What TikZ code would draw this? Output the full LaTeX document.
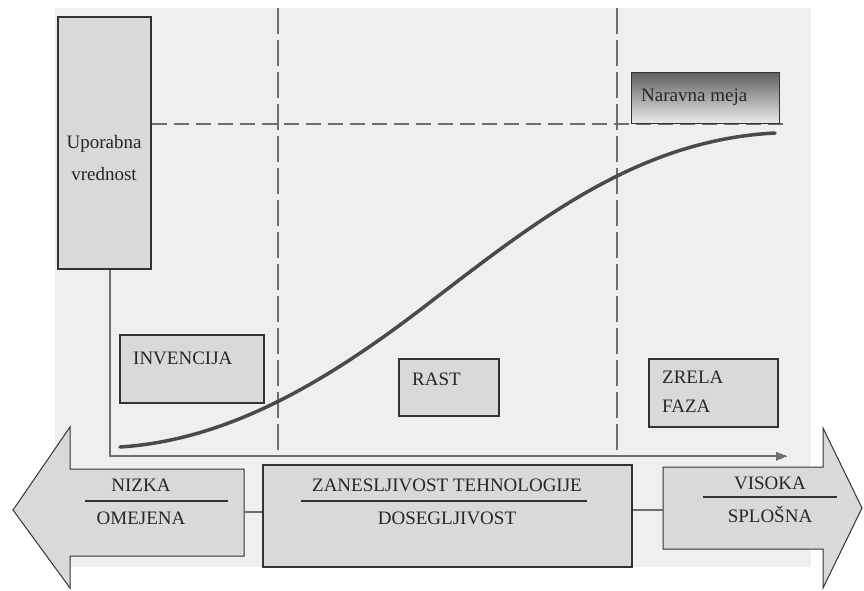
\documentclass[tikz,border=0pt]{standalone}
\usepackage{fontspec}
\setmainfont{Liberation Serif}
\usetikzlibrary{arrows.meta}
\definecolor{bgc}{HTML}{EFEFEF}
\definecolor{boxc}{HTML}{D9D9D9}
\definecolor{edgec}{HTML}{333333}
\definecolor{linec}{HTML}{6E6E6E}
\definecolor{curvec}{HTML}{4A4A4A}
\tikzset{
  box/.style={draw=edgec, fill=boxc, line width=1.2pt, rectangle, inner sep=0pt},
  txt/.style={font=\fontsize{19}{23}\selectfont, inner sep=0pt, text=black!85},
  vdash/.style={draw=linec, line width=1.5pt, dash pattern=on 26pt off 6pt},
  hdash/.style={draw=linec, line width=1.8pt, dash pattern=on 15pt off 7pt},
  axis/.style={draw=linec, line width=1.5pt},
  bigarrow/.style={draw=edgec, fill=boxc, line width=1pt, line join=miter},
  rule/.style={draw=black!80, line width=1.1pt},
}
\begin{document}
\begin{tikzpicture}[x=1pt,y=-1pt]
\useasboundingbox (0,0) rectangle (864,591);
\fill[white] (0,0) rectangle (864,591);
\fill[bgc] (55,8) rectangle (811,567);

% dashed phase lines
\coordinate (d1t) at (278,8);
\coordinate (d1b) at (278,456);
\coordinate (d2t) at (617,8);
\coordinate (d2b) at (617,456);
\draw[vdash] (d1t) -- (d1b);
\draw[vdash] (d2t) -- (d2b);

% value box
\node[box, minimum width=93pt, minimum height=252pt] (uv) at (104.5,143) {};
\node[txt, align=center] (uvt) at (104,158) {Uporabna\\[9pt]vrednost};

% limit dashed line
\coordinate (lim) at (783,124);
\draw[hdash] (uv.east |- 0,124) -- (lim);

% natural limit box
\node[rectangle, minimum width=147pt, minimum height=50pt, inner sep=0pt] (nm) at (705.5,98) {};
\shade[top color=black!62, bottom color=black!8] (nm.south west) rectangle (nm.north east);
\draw[edgec, line width=1.2pt] (nm.south west) rectangle (nm.north east);
\node[txt, anchor=west] (nmt) at (641,97) {Naravna meja};

% axes
\coordinate (corner) at (110,456);
\coordinate (xend) at (786,456);
\draw[axis] (uv.south -| corner) -- (corner) -- (xend);
\draw[linec, line width=0pt, fill=linec] (xend) ++(-10,-4) -- (xend) -- ++(-10,4) -- cycle;

% phase boxes
\node[box, minimum width=144pt, minimum height=68pt] (inv) at (192,369) {};
\node[txt, anchor=west] (invt) at (133,358) {INVENCIJA};
\node[box, minimum width=100pt, minimum height=57pt] (rast) at (449,387.5) {};
\node[txt, anchor=west] (rastt) at (412,379) {RAST};
\node[box, minimum width=129pt, minimum height=68pt] (zr) at (713.5,393) {};
\node[txt, anchor=west, align=left] (zrt) at (662,392) {ZRELA\\[6pt]FAZA};

% S-curve
\coordinate (c0) at (120,447);
\coordinate (c1) at (433,300);
\coordinate (c2) at (775,133);
\draw[curvec, line width=3.5pt, line cap=round]
  (c0) .. controls (230,440) and (330,380) .. (c1)
       .. controls (540,218) and (640,140) .. (c2);

% left big arrow
\draw[bigarrow] (244,469) -- (70,469) -- (70,427) -- (13,510) -- (70,588) -- (70,556) -- (244,556) -- cycle;
\coordinate (la) at (244,512);
\node[txt] (nizka) at (141,485) {NIZKA};
\draw[rule] (85,501) -- (228,501);
\node[txt] (omej) at (141,518) {OMEJENA};

% central box
\node[box, minimum width=369pt, minimum height=102pt] (zan) at (447.5,516) {};
\node[txt] (zant) at (447,485) {ZANESLJIVOST TEHNOLOGIJE};
\draw[rule] (301,501) -- (587,501);
\node[txt] (dos) at (447,518) {DOSEGLJIVOST};

% right big arrow
\draw[bigarrow] (663,467) -- (823,467) -- (823,428) -- (862,508) -- (823,588) -- (823,549) -- (663,549) -- cycle;
\coordinate (ra) at (663,510);
\node[txt] (vis) at (770,483) {VISOKA};
\draw[rule] (703,497) -- (837,497);
\node[txt] (spl) at (770,514) {SPLOŠNA};

% connectors
\draw[axis] (la) -- (zan.west |- la);
\draw[axis] (zan.east |- ra) -- (ra);
\end{tikzpicture}
\end{document}
